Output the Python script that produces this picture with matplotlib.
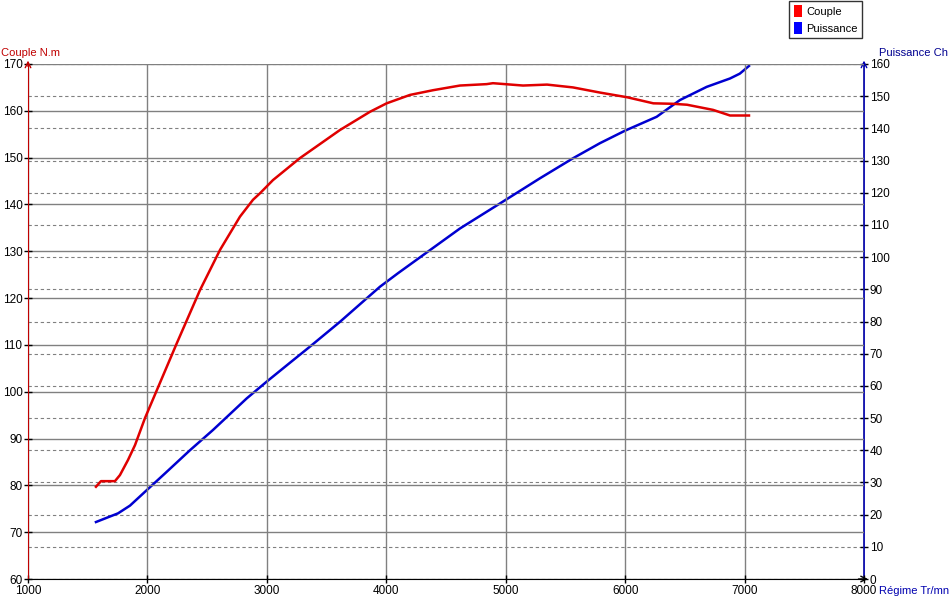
import matplotlib.pyplot as plt
from matplotlib.patches import Patch

plt.rcParams['font.family'] = ['Liberation Sans', 'DejaVu Sans']

# Couple (N.m) en fonction du régime
regime_couple = [1569, 1611, 1728, 1770, 1837, 1896, 1980, 2245, 2440, 2608, 2775,
                 2884, 2943, 3051, 3277, 3612, 3864, 4003, 4199, 4391, 4617, 4840,
                 4893, 5145, 5346, 5563, 5789, 6016, 6236, 6400, 6518, 6736, 6878,
                 7037]
couple = [79.7, 80.9, 80.9, 82.2, 85.4, 88.6, 94.4, 110.3, 121.7, 130.3, 137.4,
          141.0, 142.4, 145.2, 149.9, 155.9, 159.8, 161.6, 163.4, 164.4, 165.4, 165.7,
          165.9, 165.4, 165.6, 165.0, 163.9, 162.9, 161.6, 161.5, 161.3, 160.2, 159.0,
          159.0]

# Puissance (Ch) en fonction du régime
regime_puiss = [1569, 1754, 1854, 2000, 2147, 2356, 2549, 2831, 2998, 3194, 3361,
                3612, 3836, 3947, 4098, 4617, 4953, 5287, 5563, 5789, 6000, 6264,
                6459, 6683, 6878, 6960, 7037]
puissance = [17.7, 20.4, 22.8, 27.8, 32.8, 40.0, 46.3, 56.1, 61.3, 67.2, 72.2,
             79.9, 87.2, 90.8, 95.0, 108.9, 116.7, 124.5, 130.7, 135.4, 139.3, 143.6,
             148.8, 152.9, 155.5, 157.0, 159.4]

x_ticks = list(range(1000, 8001, 1000))
y_ticks_couple = list(range(60, 171, 10))
y_ticks_puiss = list(range(0, 161, 10))

W, H = 951, 602
fig = plt.figure(figsize=(W / 100, H / 100), dpi=100)
ax = fig.add_axes([28 / W, 1 - 579 / H, (864 - 28) / W, (579 - 64) / H])
ax2 = ax.twinx()

ax.set_xlim(1000, 8000)
ax.set_ylim(60, 170)
ax2.set_ylim(0, 160)

# Grille
for v in x_ticks:
    ax.axvline(v, color='#808080', lw=1, zorder=0)
for v in y_ticks_couple:
    ax.axhline(v, color='#808080', lw=1, zorder=0)
for v in y_ticks_puiss:
    ax2.axhline(v, color='#808080', lw=0.8, ls=(0, (3, 2.5)), zorder=0)

ax2.plot(regime_puiss, puissance, color='#0000d0', lw=1.8, zorder=3)
ax.plot(regime_couple, couple, color='#e00000', lw=1.8, zorder=3)
ax.set_zorder(ax2.get_zorder() + 1)
ax.patch.set_visible(False)

ax.set_xticks(x_ticks)
ax.set_yticks(y_ticks_couple)
ax2.set_yticks(y_ticks_puiss)

for a in (ax, ax2):
    for s in a.spines.values():
        s.set_visible(False)

ax.spines['left'].set_visible(True)
ax.spines['left'].set_color('#c00000')
ax.spines['bottom'].set_visible(True)
ax.spines['bottom'].set_color('black')
ax2.spines['right'].set_visible(True)
ax2.spines['right'].set_color('#0000b0')
ax2.spines['right'].set_linewidth(1.3)

ax.tick_params(axis='both', direction='inout', length=6, width=1, labelsize=8.5,
               color='black', pad=1)
ax2.tick_params(axis='y', direction='inout', length=6, width=1, labelsize=8.5,
                color='black', pad=1)

# Flèches au bout des axes
ax.annotate('', xy=(0, 1.012), xytext=(0, 0.99), xycoords='axes fraction',
            arrowprops=dict(arrowstyle='->', color='#c00000', lw=1))
ax2.annotate('', xy=(1, 1.012), xytext=(1, 0.99), xycoords='axes fraction',
             arrowprops=dict(arrowstyle='->', color='#0000b0', lw=1))
ax.annotate('', xy=(1.008, 0), xytext=(0.99, 0), xycoords='axes fraction',
            arrowprops=dict(arrowstyle='->', color='black', lw=1))

fig.text(1 / W, 1 - 53 / H, 'Couple N.m', color='#c00000', fontsize=8, va='center', ha='left')
fig.text(948 / W, 1 - 53 / H, 'Puissance Ch', color='#000090', fontsize=8, va='center', ha='right')
fig.text(949 / W, 1 - 591 / H, 'Régime Tr/mn', color='#0000b0', fontsize=8, va='center', ha='right')

handles = [Patch(facecolor='#ff0000', edgecolor='none', label='Couple'),
           Patch(facecolor='#0000ff', edgecolor='none', label='Puissance')]
leg = fig.legend(handles=handles, loc='upper right', bbox_to_anchor=(862 / W, 1 - 1 / H),
                 fontsize=8, frameon=True, fancybox=False, handlelength=0.7,
                 handleheight=1.2, handletextpad=0.4, borderpad=0.4, labelspacing=0.5,
                 borderaxespad=0)
leg.get_frame().set_edgecolor('black')
leg.get_frame().set_linewidth(1)

fig.savefig('out.png', dpi=100)
